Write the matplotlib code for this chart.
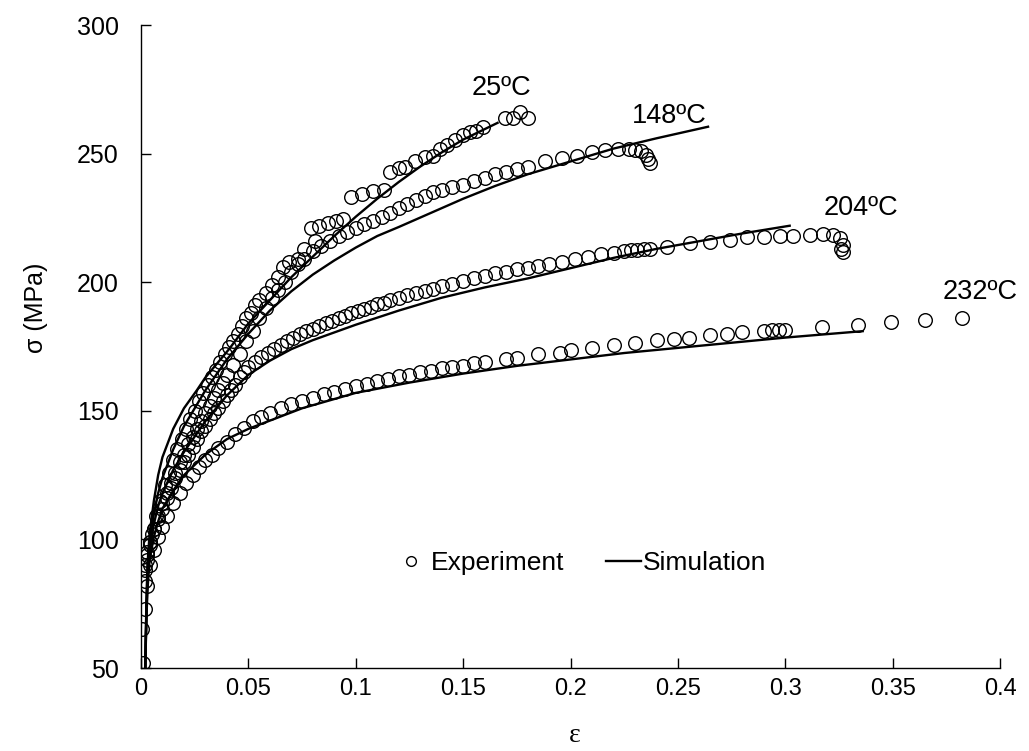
import matplotlib
matplotlib.use("Agg")
import matplotlib.pyplot as plt

# ---------------- data ----------------
exp25_x = [0.0005, 0.001, 0.002, 0.003, 0.004, 0.005, 0.007, 0.009, 0.011, 0.013, 0.015, 0.017, 0.019,
           0.021, 0.023, 0.025, 0.027, 0.029, 0.031, 0.033, 0.035, 0.037, 0.039, 0.041, 0.043, 0.045,
           0.047, 0.049, 0.051, 0.053, 0.055, 0.058, 0.061, 0.064, 0.066, 0.069, 0.073, 0.076, 0.079,
           0.081, 0.083, 0.087, 0.091, 0.094, 0.098, 0.103, 0.108, 0.113, 0.116, 0.120, 0.123, 0.1275,
           0.132, 0.136, 0.139, 0.1425, 0.146, 0.150, 0.153, 0.156, 0.159, 0.1695, 0.173, 0.1765, 0.180]
exp25_y = [65, 52, 84, 92, 98, 102, 109, 115, 121, 126, 131, 135, 139,
           143, 147, 150, 154, 157, 160, 163, 166, 169, 172, 175, 177, 180,
           183, 186, 188, 191, 193, 196, 199, 202, 206, 208, 209, 213, 221,
           216, 222, 223, 224, 224.5, 233, 234.5, 235.5, 236, 243, 244.4, 245, 247,
           248.7, 249, 252, 253.3, 255.3, 257.2, 258.4, 259, 260.3, 263.8, 263.8, 266.2, 263.8]

exp148_x = [0.002, 0.003, 0.004, 0.006, 0.008, 0.010, 0.012, 0.014, 0.016, 0.018, 0.020, 0.022, 0.024,
            0.026, 0.028, 0.030, 0.032, 0.034, 0.036, 0.038, 0.040, 0.043, 0.046, 0.049, 0.052, 0.055,
            0.058, 0.061, 0.064, 0.067, 0.070, 0.073, 0.076, 0.080, 0.084, 0.088, 0.092, 0.096, 0.100,
            0.104, 0.108, 0.112, 0.116, 0.120, 0.124, 0.128, 0.132, 0.136, 0.140, 0.145, 0.150, 0.155,
            0.160, 0.165, 0.170, 0.175, 0.180, 0.188, 0.196, 0.203, 0.210, 0.216, 0.222, 0.227, 0.230,
            0.233, 0.235, 0.236, 0.237]
exp148_y = [88, 94, 99, 104, 109, 114, 118, 122, 126, 130, 133, 137, 140,
            143, 146, 149, 152, 155, 158, 161, 164, 168, 172, 177, 181, 186,
            190, 194, 197, 200, 204, 207, 209, 212, 214, 216, 218, 219.5, 221,
            222.5, 224, 225.5, 227, 229, 230.5, 232, 233.5, 235, 236, 237, 238, 239.5,
            240.5, 242, 243, 244, 245, 247, 248.5, 249, 250.5, 251.5, 252, 252, 251.5,
            251, 249.5, 248, 246.5]

exp204_x = [0.002, 0.003, 0.004, 0.006, 0.008, 0.010, 0.012, 0.014, 0.016, 0.018, 0.020, 0.022, 0.024,
            0.026, 0.028, 0.030, 0.032, 0.034, 0.036, 0.038, 0.040, 0.042, 0.044, 0.046, 0.048, 0.050,
            0.053, 0.056, 0.059, 0.062, 0.065, 0.068, 0.071, 0.074, 0.077, 0.080, 0.083, 0.086, 0.089,
            0.092, 0.095, 0.098, 0.101, 0.104, 0.107, 0.110, 0.113, 0.116, 0.120, 0.124, 0.128, 0.132,
            0.136, 0.140, 0.145, 0.150, 0.155, 0.160, 0.165, 0.170, 0.175, 0.180, 0.185, 0.190, 0.196,
            0.202, 0.208, 0.214, 0.220, 0.225, 0.228, 0.231, 0.234, 0.237, 0.245, 0.2556, 0.265, 0.274,
            0.282, 0.290, 0.2975, 0.3035, 0.3115, 0.3175, 0.322, 0.3255, 0.327, 0.326, 0.327]
exp204_y = [90, 95, 99, 104, 108, 112, 116, 120, 124, 127, 130, 133, 136,
            139, 142, 144, 147, 149, 151, 154, 156, 158, 160, 163, 165, 167,
            169, 171, 172.5, 174, 175.5, 177, 178.5, 180, 181, 182, 183, 184, 185,
            186, 187, 188, 189, 189.5, 190.5, 191.5, 192, 193, 194, 195, 196, 196.5,
            197.5, 198.5, 199.5, 200.5, 201.5, 202.5, 203.5, 204, 205, 205.5, 206.5, 207, 208,
            209, 210, 211, 211.5, 212, 212.5, 212.7, 213, 213, 213.7, 215.2, 215.6, 216.4,
            217.6, 217.6, 218, 218, 218.4, 218.7, 218.4, 217.2, 214.5, 213, 211.7]

exp232_x = [0.002, 0.003, 0.004, 0.006, 0.008, 0.010, 0.012, 0.015, 0.018, 0.021, 0.024, 0.027, 0.030,
            0.033, 0.036, 0.040, 0.044, 0.048, 0.052, 0.056, 0.060, 0.065, 0.070, 0.075, 0.080, 0.085,
            0.090, 0.095, 0.100, 0.105, 0.110, 0.115, 0.120, 0.125, 0.130, 0.135, 0.140, 0.145, 0.150,
            0.155, 0.160, 0.170, 0.175, 0.185, 0.195, 0.200, 0.210, 0.220, 0.230, 0.240, 0.248, 0.255,
            0.265, 0.273, 0.280, 0.290, 0.294, 0.297, 0.300, 0.317, 0.334, 0.349, 0.365, 0.382]
exp232_y = [73, 82, 90, 96, 101, 105, 109, 114, 118, 122, 125, 128, 131,
            133, 135.5, 138, 141, 143.5, 146, 147.5, 149, 151, 152.5, 154, 155, 156.5,
            157.5, 158.5, 159.5, 160.5, 161.5, 162.5, 163.5, 164, 165, 165.5, 166.5, 167, 167.5,
            168.5, 169, 170, 170.5, 172, 172.5, 173.5, 174.5, 175.5, 176.5, 177.5, 178, 178.5,
            179.5, 180, 180.5, 181, 181.3, 181.5, 181.5, 182.5, 183.5, 184.5, 185.5, 186]

sim25_x = [0.002, 0.0025, 0.003, 0.004, 0.006, 0.008, 0.010, 0.015, 0.020, 0.026, 0.030, 0.035, 0.041,
           0.050, 0.060, 0.070, 0.080, 0.090, 0.100, 0.110, 0.120, 0.130, 0.140, 0.150, 0.166]
sim25_y = [50, 75, 90, 102, 115, 125, 132, 143, 151, 158, 163, 168, 174,
           184, 193, 202, 210, 218, 225.5, 232.5, 239, 245, 250.5, 255.5, 262]

sim148_x = [0.002, 0.0025, 0.003, 0.004, 0.006, 0.008, 0.010, 0.015, 0.020, 0.030, 0.040, 0.050,
            0.060, 0.070, 0.080, 0.090, 0.100, 0.110, 0.120, 0.135, 0.150, 0.165, 0.180, 0.200,
            0.220, 0.240, 0.264]
sim148_y = [50, 72, 86, 98, 110, 118, 124, 135, 144, 158, 170, 180,
            189, 196.5, 203, 208.5, 213.5, 218, 221.5, 227, 232.5, 237.5, 242, 247,
            252, 256, 260.5]

sim204_x = [0.002, 0.0025, 0.003, 0.004, 0.006, 0.008, 0.010, 0.015, 0.020, 0.030, 0.040, 0.050,
            0.060, 0.070, 0.080, 0.090, 0.100, 0.120, 0.140, 0.160, 0.180, 0.200, 0.220, 0.240,
            0.260, 0.280, 0.302]
sim204_y = [50, 70, 83, 95, 106, 113, 118, 127, 134, 146, 156, 164,
            169.5, 174, 177.5, 180.5, 183.5, 189, 194, 198, 201.5, 205.5, 209.5, 213,
            216, 219, 222]

sim232_x = [0.002, 0.0025, 0.003, 0.004, 0.006, 0.008, 0.010, 0.015, 0.020, 0.030, 0.040, 0.050,
            0.075, 0.100, 0.125, 0.150, 0.175, 0.200, 0.225, 0.250, 0.275, 0.300, 0.336]
sim232_y = [50, 68, 80, 92, 101, 107, 112, 119, 125, 133, 139, 143,
            151, 157, 161, 164.5, 167.5, 170, 172.5, 174.5, 176.5, 178.5, 181]

labels = ["25ºC", "148ºC", "204ºC", "232ºC"]
label_x = [0.168, 0.246, 0.335, 0.3906]
label_y = [275.5, 264.6, 228.9, 196.2]

xticks = [0, 0.05, 0.1, 0.15, 0.2, 0.25, 0.3, 0.35, 0.4]
xticklabels = ["0", "0.05", "0.1", "0.15", "0.2", "0.25", "0.3", "0.35", "0.4"]
yticks = [50, 100, 150, 200, 250, 300]

# ---------------- plot ----------------
plt.rcParams['font.family'] = ['Liberation Sans', 'DejaVu Sans']
fig = plt.figure(figsize=(10.29, 7.51), dpi=100)
ax = fig.add_axes([0.137, 0.1105, 0.835, 0.856])

mk = dict(linestyle='none', marker='o', markersize=9.8, markerfacecolor='none',
          markeredgecolor='black', markeredgewidth=1.0)
for xs, ys in [(exp25_x, exp25_y), (exp148_x, exp148_y), (exp204_x, exp204_y), (exp232_x, exp232_y)]:
    ax.plot(xs, ys, **mk)
for xs, ys in [(sim25_x, sim25_y), (sim148_x, sim148_y), (sim204_x, sim204_y), (sim232_x, sim232_y)]:
    ax.plot(xs, ys, color='black', linewidth=1.7)

for t, x, y in zip(labels, label_x, label_y):
    ax.text(x, y, t, fontsize=19.5, ha='center', va='center')

ax.set_xlim(0, 0.4)
ax.set_ylim(50, 300)
ax.set_xticks(xticks)
ax.set_xticklabels(xticklabels)
ax.set_yticks(yticks)
ax.tick_params(direction='in', length=7, width=1)
ax.tick_params(axis='x', labelsize=17, pad=7)
ax.tick_params(axis='y', labelsize=18, pad=16)
for s in ['top', 'right']:
    ax.spines[s].set_visible(False)
for s in ['left', 'bottom']:
    ax.spines[s].set_linewidth(1.0)

ax.set_ylabel("σ (MPa)", fontsize=18)
ax.yaxis.set_label_coords(-0.108, 0.56)
ax.set_xlabel("ε", fontsize=20, family=['Liberation Serif', 'DejaVu Serif'])
ax.xaxis.set_label_coords(0.505, -0.085)

h1, = ax.plot([], [], linestyle='none', marker='o', markersize=7, markerfacecolor='none',
              markeredgecolor='black', markeredgewidth=1.0)
h2, = ax.plot([], [], color='black', linewidth=1.7)
ax.legend([h1, h2], ["Experiment", "Simulation"], loc='center', bbox_to_anchor=(0.511, 0.163),
          ncol=2, frameon=False, fontsize=19, handlelength=1.3, handletextpad=0.1,
          columnspacing=1.6)

fig.savefig("out.png", dpi=100)
